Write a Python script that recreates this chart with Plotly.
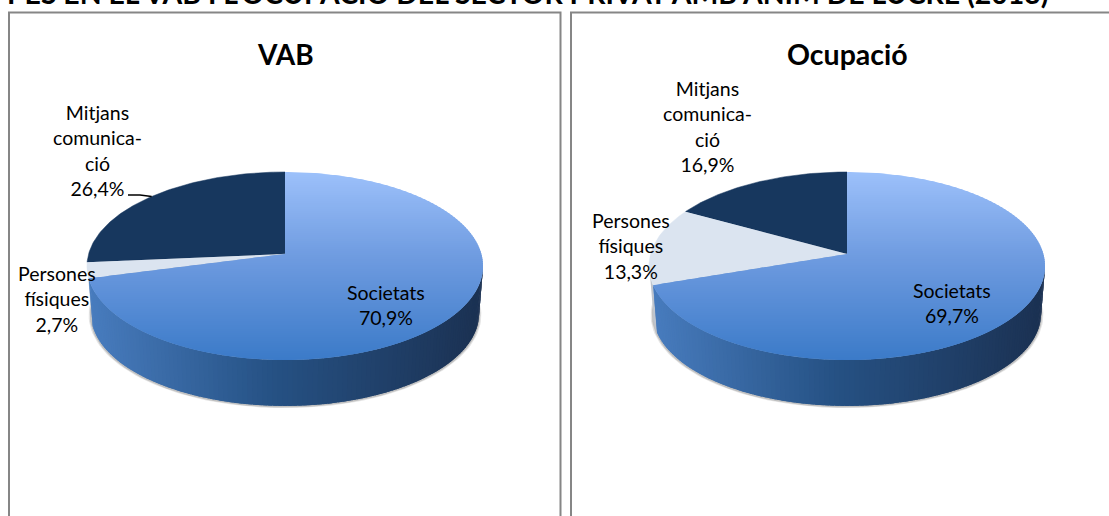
import numpy as np
import plotly.graph_objects as go

title = "PES EN EL VAB I L'OCUPACIÓ DEL SECTOR PRIVAT AMB ÀNIM DE LUCRE (2013)"
chart_titles = ["VAB", "Ocupació"]
categories = ["Societats", "Persones físiques", "Mitjans comunicació"]
vab_values = [70.9, 2.7, 26.4]
ocupacio_values = [69.7, 13.3, 16.9]
vab_labels = ["Societats<br>70,9%", "Persones<br>físiques<br>2,7%", "Mitjans<br>comunica-<br>ció<br>26,4%"]
ocupacio_labels = ["Societats<br>69,7%", "Persones<br>físiques<br>13,3%", "Mitjans<br>comunica-<br>ció<br>16,9%"]

FONT = "Lato"
K, A, R, APEX_Y = 0.1277, 92.5, 196.4, 254.0
DEPTH_SCALE, BASE_APEX_Y = 0.98, 302.0


def mix(c1, c2, t):
    t = float(np.clip(t, 0, 1))
    return "rgb(%d,%d,%d)" % tuple(round(a + (b - a) * t) for a, b in zip(c1, c2))


def project(cx, theta, scale=1.0, apex=APEX_Y):
    u, v = np.sin(theta), -np.cos(theta)
    d = 1 - K * v
    return cx + scale * R * u / d, apex + scale * A * v / d


def wedge(cx, a0, a1):
    t = np.linspace(a0, a1, max(int((a1 - a0) * 60), 4))
    x, y = project(cx, t)
    return np.r_[cx, x], np.r_[APEX_Y, y]


def clip_band(xs, ys, y0, y1):
    pts = list(zip(xs, ys))
    for lim, keep in ((y0, lambda y: y >= y0), (y1, lambda y: y <= y1)):
        out = []
        for i in range(len(pts)):
            p, q = pts[i], pts[(i + 1) % len(pts)]
            if keep(p[1]):
                out.append(p)
            if keep(p[1]) != keep(q[1]):
                s = (lim - p[1]) / (q[1] - p[1])
                out.append((p[0] + s * (q[0] - p[0]), lim))
        pts = out
        if not pts:
            return None
    return [p[0] for p in pts] + [pts[0][0]], [p[1] for p in pts] + [pts[0][1]]


def poly(fig, x, y, color, lw=0):
    fig.add_trace(go.Scatter(x=list(x), y=list(y), mode="lines", fill="toself", fillcolor=color,
                             line=dict(color=color, width=lw), hoverinfo="skip", showlegend=False))


def draw_pie(fig, cx, values):
    total = sum(values)
    edges = 2 * np.pi * np.cumsum([0] + values) / total
    # soft shadow under the base
    t = np.linspace(0, 2 * np.pi, 200)
    for grow, op in ((1.012, 0.18), (1.006, 0.3)):
        sx, sy = project(cx, t, DEPTH_SCALE * grow, BASE_APEX_Y + 1)
        poly(fig, sx, sy, "rgba(110,110,110,%.2f)" % op)
    # pale side of the second slice
    wall_end = 3 * np.pi / 2 - 0.1
    if edges[1] < wall_end:
        t2 = np.linspace(edges[1], min(edges[2], wall_end), 30)
        tx, ty = project(cx, t2)
        bx, by = project(cx, t2, DEPTH_SCALE, BASE_APEX_Y)
        poly(fig, np.r_[tx, bx[::-1]], np.r_[ty, by[::-1]], "rgb(190,196,205)")
    # side wall, drawn in thin overlapping strips
    steps = np.linspace(np.pi / 2 + 0.1, wall_end, 130)
    for a0, a1 in zip(steps[:-1], steps[1:]):
        if a0 >= edges[1]:
            break
        a1 = min(a1 + 0.02, edges[1])
        tx, ty = project(cx, np.array([a0, a1]))
        bx, by = project(cx, np.array([a0, a1]), DEPTH_SCALE, BASE_APEX_Y)
        f = (cx + R - tx.mean()) / (2 * R)
        col = mix((27, 49, 82), (38, 82, 133), f / 0.55) if f < 0.55 else mix((38, 82, 133), (72, 124, 190), (f - 0.55) / 0.45)
        poly(fig, [tx[0], tx[1], bx[1], bx[0]], [ty[0], ty[1], by[1], by[0]], col)
    # top faces
    x, y = wedge(cx, edges[2], edges[3])
    poly(fig, x, y, "#17375e", 0.5)
    x, y = wedge(cx, edges[1], edges[2])
    poly(fig, x, y, "#dbe4f0", 0.5)
    x, y = wedge(cx, edges[0], edges[1])
    for y0 in np.arange(171, 361, 2.0):
        c = clip_band(x, y, y0, y0 + 3.5)
        if c:
            f = (y0 - 172) / 188
            col = mix((156, 192, 250), (110, 155, 224), f / 0.45) if f < 0.45 else mix((110, 155, 224), (58, 122, 200), (f - 0.45) / 0.55)
            poly(fig, c[0], c[1], col)


fig = go.Figure()
draw_pie(fig, 285.0, vab_values)
draw_pie(fig, 847.0, ocupacio_values)

# leader line of the VAB label, ending on the middle of its slice
lx, ly = project(285.0, 2 * np.pi * (1 - 0.5 * vab_values[2] / 100))
fig.add_trace(go.Scatter(x=[128, 140, lx], y=[195, 195, ly], mode="lines", line=dict(color="black", width=1.6),
                         hoverinfo="skip", showlegend=False))

shapes = [
    dict(type="rect", x0=9, x1=560.5, y0=12.5, y1=540, line=dict(color="#868686", width=2), layer="below"),
    dict(type="rect", x0=571, x1=1125, y0=12.5, y1=540, line=dict(color="#868686", width=2), layer="below"),
]


def note(text, x, y, size=19.5, bold=False, xanchor="center", yanchor="middle"):
    return dict(text=f"<b>{text}</b>" if bold else text, x=x, y=y, xref="x", yref="y", showarrow=False,
                xanchor=xanchor, yanchor=yanchor, align="center",
                font=dict(family=FONT, size=size, color="black"))


annotations = [
    note(title, 5, 12, size=28.4, bold=True, xanchor="left", yanchor="bottom"),
    note(chart_titles[0], 285, 54, size=28, bold=True),
    note(chart_titles[1], 847, 54, size=28.5, bold=True),
    note(vab_labels[0], 386, 305),
    note(vab_labels[1], 56.5, 299),
    note(vab_labels[2], 97, 150),
    note(ocupacio_labels[0], 952, 303),
    note(ocupacio_labels[1], 631, 246),
    note(ocupacio_labels[2], 707, 126),
]

fig.update_layout(
    width=1109, height=516, autosize=False, margin=dict(l=0, r=0, t=0, b=0),
    paper_bgcolor="white", plot_bgcolor="white", showlegend=False,
    xaxis=dict(range=[0, 1109], visible=False, fixedrange=True),
    yaxis=dict(range=[516, 0], visible=False, fixedrange=True),
    shapes=shapes, annotations=annotations,
)
fig.write_html("out.html", config=dict(displayModeBar=False),
               post_script="document.body.style.margin='0';document.body.style.overflow='hidden';")
